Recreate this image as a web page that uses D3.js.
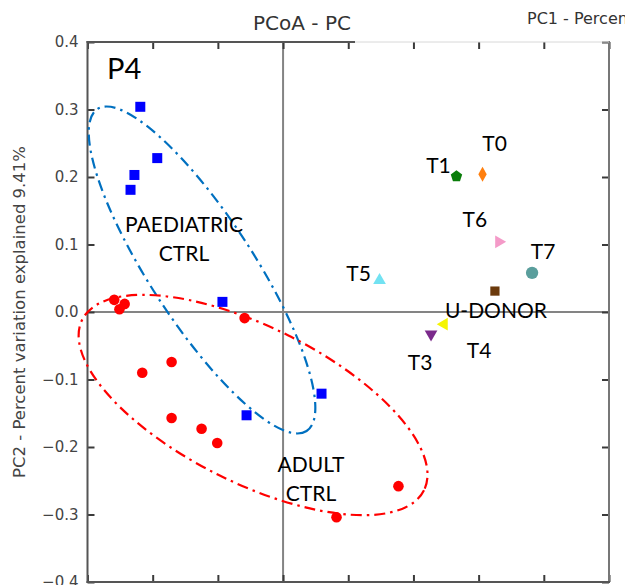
<!DOCTYPE html>
<html><head><meta charset="utf-8">
<script src="https://cdn.jsdelivr.net/npm/d3@7/dist/d3.min.js"></script>
<style>body{margin:0;background:#fff;} svg{display:block;}</style>
</head><body><svg id="chart" width="625" height="585"></svg>
<script>
// ---------- data ----------
const paedX = [-0.219, -0.193, -0.228, -0.234, -0.093, 0.059, -0.056];
const paedY = [0.304, 0.228, 0.203, 0.181, 0.015, -0.121, -0.153];
const adultX = [-0.259, -0.243, -0.251, -0.059, -0.216, -0.171, -0.171, -0.125, -0.101, 0.082, 0.177];
const adultY = [0.018, 0.012, 0.004, -0.009, -0.090, -0.074, -0.157, -0.173, -0.194, -0.304, -0.258];
const sampleNames = ["T0", "T1", "T3", "T4", "T5", "T6", "T7", "U-DONOR"];
const sampleX = [0.306, 0.266, 0.227, 0.247, 0.148, 0.331, 0.382, 0.325];
const sampleY = [0.204, 0.201, -0.033, -0.018, 0.047, 0.104, 0.058, 0.031];
const xTicks = [-0.3, -0.2, -0.1, 0, 0.1, 0.2, 0.3, 0.4, 0.5];
const yTicks = [-0.4, -0.3, -0.2, -0.1, 0, 0.1, 0.2, 0.3, 0.4];
const yTickLabels = ["\u22120.4", "\u22120.3", "\u22120.2", "\u22120.1", "0.0", "0.1", "0.2", "0.3", "0.4"];
const groupLabels = [["PAEDIATRIC", "CTRL"], ["ADULT", "CTRL"]];
const titleText = "PCoA - PC";
const xTitleText = "PC1 - Percent variation explained";
const yTitleText = "PC2 - Percent variation explained 9.41%";
const panelLabel = "P4";

// ---------- layout / style ----------
const svg = d3.select("#chart");
const L = 87.5, R = 609, T = 42, B = 582;
const x = d3.scaleLinear().domain([-0.3, 0.5]).range([L, R]);
const y = d3.scaleLinear().domain([-0.4, 0.4]).range([B, T]);
const axisFont = "DejaVu Sans, sans-serif";
const labelFont = "Lato, 'Open Sans', sans-serif";

// group ellipses: centre in data units, radii in px, angle in degrees
const ellipses = [
  {cx: -0.1243, cy: 0.0622, rx: 192, ry: 52, angle: 57, color: "#0070c0"},
  {cx: -0.0460, cy: -0.1378, rx: 191, ry: 78, angle: 26.5, color: "#ff0000"}
];

// zero lines
svg.append("line").attr("x1", L).attr("x2", R).attr("y1", y(0)).attr("y2", y(0))
  .attr("stroke", "#848484").attr("stroke-width", 2);
svg.append("line").attr("x1", x(0)).attr("x2", x(0)).attr("y1", T).attr("y2", B)
  .attr("stroke", "#848484").attr("stroke-width", 2);

// axes (inward ticks)
const tickLen = 7;
const gL = svg.append("g").attr("transform", `translate(${L},0)`)
  .call(d3.axisRight(y).tickValues(yTicks).tickSize(tickLen).tickFormat(""));
const gR = svg.append("g").attr("transform", `translate(${R},0)`)
  .call(d3.axisLeft(y).tickValues(yTicks).tickSize(tickLen).tickFormat(""));
const gB = svg.append("g").attr("transform", `translate(0,${B})`)
  .call(d3.axisTop(x).tickValues(xTicks).tickSize(tickLen).tickFormat(""));
const gT = svg.append("g").attr("transform", `translate(0,${T})`)
  .call(d3.axisBottom(x).tickValues(xTicks).tickSize(tickLen).tickFormat(""));
[gL, gR, gB, gT].forEach(g => {
  g.select(".domain").remove();
  g.selectAll(".tick line").attr("stroke", "#3a3a3a").attr("stroke-width", 2);
});

// spines
const spine = "#555";
svg.append("line").attr("x1", L).attr("x2", L).attr("y1", T - 1).attr("y2", B + 1).attr("stroke", spine).attr("stroke-width", 2);
svg.append("line").attr("x1", R).attr("x2", R).attr("y1", T - 1).attr("y2", B + 1).attr("stroke", "#777").attr("stroke-width", 2);
svg.append("line").attr("x1", L - 1).attr("x2", R + 1).attr("y1", B).attr("y2", B).attr("stroke", spine).attr("stroke-width", 2);
svg.append("line").attr("x1", L - 1).attr("x2", 355).attr("y1", T).attr("y2", T).attr("stroke", spine).attr("stroke-width", 2);
svg.append("line").attr("x1", 355).attr("x2", R).attr("y1", T).attr("y2", T).attr("stroke", "#d8d8d8").attr("stroke-width", 1);

// y tick labels
svg.append("g").selectAll("text").data(yTicks).join("text")
  .attr("x", L - 9).attr("y", d => y(d)).attr("dy", "0.36em")
  .attr("text-anchor", "end").attr("font-family", axisFont).attr("font-size", 15)
  .attr("fill", "#444").text((d, i) => yTickLabels[i]);

// axis titles
svg.append("text").attr("x", 253).attr("y", 30).attr("font-family", axisFont)
  .attr("font-size", 20).attr("fill", "#333").text(titleText);
svg.append("text").attr("x", 527).attr("y", 24).attr("font-family", axisFont)
  .attr("font-size", 16).attr("fill", "#333").text(xTitleText);
svg.append("text").attr("transform", `translate(19,${y(0)}) rotate(-90)`)
  .attr("text-anchor", "middle").attr("dy", "0.35em").attr("font-family", axisFont)
  .attr("font-size", 16.5).attr("fill", "#444").text(yTitleText);

// ellipses
svg.append("g").selectAll("ellipse").data(ellipses).join("ellipse")
  .attr("transform", d => `translate(${x(d.cx)},${y(d.cy)}) rotate(${d.angle})`)
  .attr("rx", d => d.rx).attr("ry", d => d.ry)
  .attr("fill", "none").attr("stroke", d => d.color).attr("stroke-width", 2.2)
  .attr("stroke-dasharray", "11,5,2.5,5");

// paediatric squares
svg.append("g").selectAll("rect").data(paedX).join("rect")
  .attr("x", (d) => x(d) - 5).attr("y", (d, i) => y(paedY[i]) - 5)
  .attr("width", 10).attr("height", 10).attr("fill", "#0000ff");

// adult circles
svg.append("g").selectAll("circle").data(adultX).join("circle")
  .attr("cx", d => x(d)).attr("cy", (d, i) => y(adultY[i])).attr("r", 5.3)
  .attr("fill", "#ff0000");

// sample markers
const pentagon = r => d3.range(5).map(k => {
  const a = -Math.PI / 2 + k * 2 * Math.PI / 5;
  return [r * Math.cos(a), r * Math.sin(a)];
});
const sampleStyle = {
  "T0": {color: "#ff7f0e", path: "M0,-7.5L4.2,0L0,7.5L-4.2,0Z"},
  "T1": {color: "#0a7d0a", path: "M" + pentagon(6).join("L") + "Z"},
  "T3": {color: "#7b2a8b", path: d3.symbol(d3.symbolTriangle, 70)(), rot: 180},
  "T4": {color: "#f5f500", path: d3.symbol(d3.symbolTriangle, 70)(), rot: -90},
  "T5": {color: "#72e2f2", path: d3.symbol(d3.symbolTriangle, 70)(), rot: 0},
  "T6": {color: "#f49ac8", path: d3.symbol(d3.symbolTriangle, 70)(), rot: 90},
  "T7": {color: "#5a9e9c", path: d3.symbol(d3.symbolCircle, 120)()},
  "U-DONOR": {color: "#6b3a0c", path: d3.symbol(d3.symbolSquare, 85)()}
};
// label offsets in px from each marker
const labelOffset = {
  "T0": [12, -31], "T1": [-18, -11], "T3": [-11, 28], "T4": [35, 26],
  "T5": [-21, -7], "T6": [-24, -22], "T7": [11, -21], "U-DONOR": [1, 19]
};
const sg = svg.append("g");
sampleNames.forEach((name, i) => {
  const st = sampleStyle[name];
  sg.append("path").attr("d", st.path)
    .attr("transform", `translate(${x(sampleX[i])},${y(sampleY[i])}) rotate(${st.rot || 0})`)
    .attr("fill", st.color);
  const off = labelOffset[name];
  sg.append("text").attr("x", x(sampleX[i]) + off[0]).attr("y", y(sampleY[i]) + off[1])
    .attr("dy", "0.36em").attr("text-anchor", "middle")
    .attr("font-family", labelFont).attr("font-size", 21).attr("fill", "#000").text(name);
});

// group labels
const groupLabelPos = [[184, 224, 253], [311, 464, 493]];
groupLabels.forEach((lines, g) => {
  lines.forEach((t, k) => {
    svg.append("text").attr("x", groupLabelPos[g][0]).attr("y", groupLabelPos[g][1 + k])
      .attr("dy", "0.36em").attr("text-anchor", "middle")
      .attr("font-family", labelFont).attr("font-size", 21).attr("fill", "#000").text(t);
  });
});

// panel label
svg.append("text").attr("x", 107).attr("y", 79).attr("font-family", labelFont)
  .attr("font-size", 29).attr("fill", "#000").text(panelLabel);
</script></body></html>
